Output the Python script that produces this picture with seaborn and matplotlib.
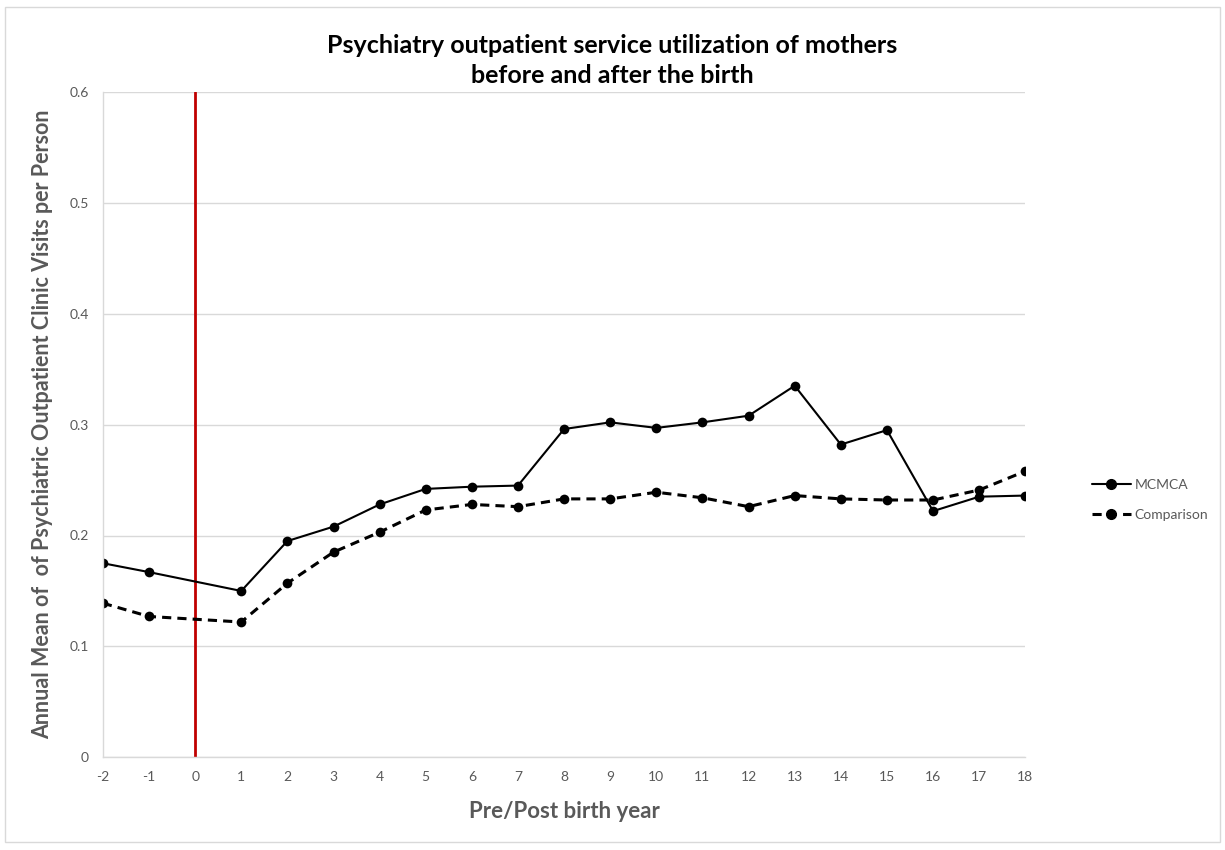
import numpy as np
import pandas as pd
import matplotlib
matplotlib.use('Agg')
import matplotlib.pyplot as plt
import seaborn as sns
from matplotlib.lines import Line2D
from matplotlib.patches import Rectangle

years = [-2, -1, 1, 2, 3, 4, 5, 6, 7, 8, 9, 10, 11, 12, 13, 14, 15, 16, 17, 18]
mcmca = [0.175, 0.167, 0.150, 0.195, 0.208, 0.228, 0.242, 0.244, 0.245, 0.296, 0.302,
         0.297, 0.302, 0.308, 0.335, 0.282, 0.295, 0.222, 0.235, 0.236]
comparison = [0.139, 0.127, 0.122, 0.157, 0.185, 0.203, 0.223, 0.228, 0.226, 0.233, 0.233,
              0.239, 0.234, 0.226, 0.236, 0.233, 0.232, 0.232, 0.241, 0.258]
series_names = ['MCMCA', 'Comparison']
x_ticks = list(range(-2, 19))
y_ticks = [0, 0.1, 0.2, 0.3, 0.4, 0.5, 0.6]
birth_year = 0

df = pd.DataFrame({
    'year': years * 2,
    'value': mcmca + comparison,
    'group': [series_names[0]] * len(years) + [series_names[1]] * len(years),
})

sns.set_style('white')
plt.rcParams['font.family'] = ['Lato', 'DejaVu Sans']

grey = '#595959'
fig = plt.figure(figsize=(12.25, 8.5), dpi=100)
ax = fig.add_axes([0.084, 0.109, 0.753, 0.783])

sns.lineplot(data=df, x='year', y='value', hue='group', style='group',
             palette={'MCMCA': 'black', 'Comparison': 'black'},
             dashes={'MCMCA': '', 'Comparison': (3, 2)},
             markers={'MCMCA': 'o', 'Comparison': 'o'},
             markersize=7, markeredgewidth=0, ax=ax, legend=False)
for line, lw in zip(ax.lines, [1.5, 2.2]):
    line.set_linewidth(lw)

ax.axvline(birth_year, color='#c00000', lw=2, zorder=1)

ax.set_xlim(-2, 18)
ax.set_ylim(0, 0.6)
ax.set_xticks(x_ticks)
ax.set_xticklabels([str(t) for t in x_ticks])
ax.set_yticks(y_ticks)
ax.set_yticklabels([f'{t:g}' for t in y_ticks])
ax.tick_params(axis='both', labelsize=10, colors=grey, length=0, pad=10)
ax.yaxis.grid(True, color='#d9d9d9', lw=1)
ax.set_axisbelow(True)
for side in ['top', 'right']:
    ax.spines[side].set_visible(False)
for side in ['left', 'bottom']:
    ax.spines[side].set_color('#d9d9d9')
    ax.spines[side].set_linewidth(1)

ax.set_xlabel('Pre/Post birth year', fontsize=16, fontweight='bold', color=grey, labelpad=13)
ax.set_ylabel('Annual Mean of  of Psychiatric Outpatient Clinic Visits per Person',
              fontsize=15.5, fontweight='bold', color=grey, labelpad=12)

fig.text(0.5, 0.947, 'Psychiatry outpatient service utilization of mothers', ha='center',
         va='center', fontsize=18, fontweight='bold', color='black')
fig.text(0.5, 0.911, 'before and after the birth', ha='center',
         va='center', fontsize=18, fontweight='bold', color='black')

handles = [
    Line2D([], [], color='black', lw=1.5, marker='o', markersize=7),
    Line2D([], [], color='black', lw=2.2, ls=(0, (3, 2)), marker='o', markersize=7),
]
fig.legend(handles, series_names, loc='center left', bbox_to_anchor=(0.881, 0.412),
           frameon=False, fontsize=10, labelcolor=grey, handlelength=2.8,
           labelspacing=1.3, handletextpad=0.3)

fig.patches.append(Rectangle((0.004, 0.01), 0.992, 0.982, transform=fig.transFigure,
                             fill=False, edgecolor='#d9d9d9', lw=1))

fig.savefig('out.png', dpi=100)
